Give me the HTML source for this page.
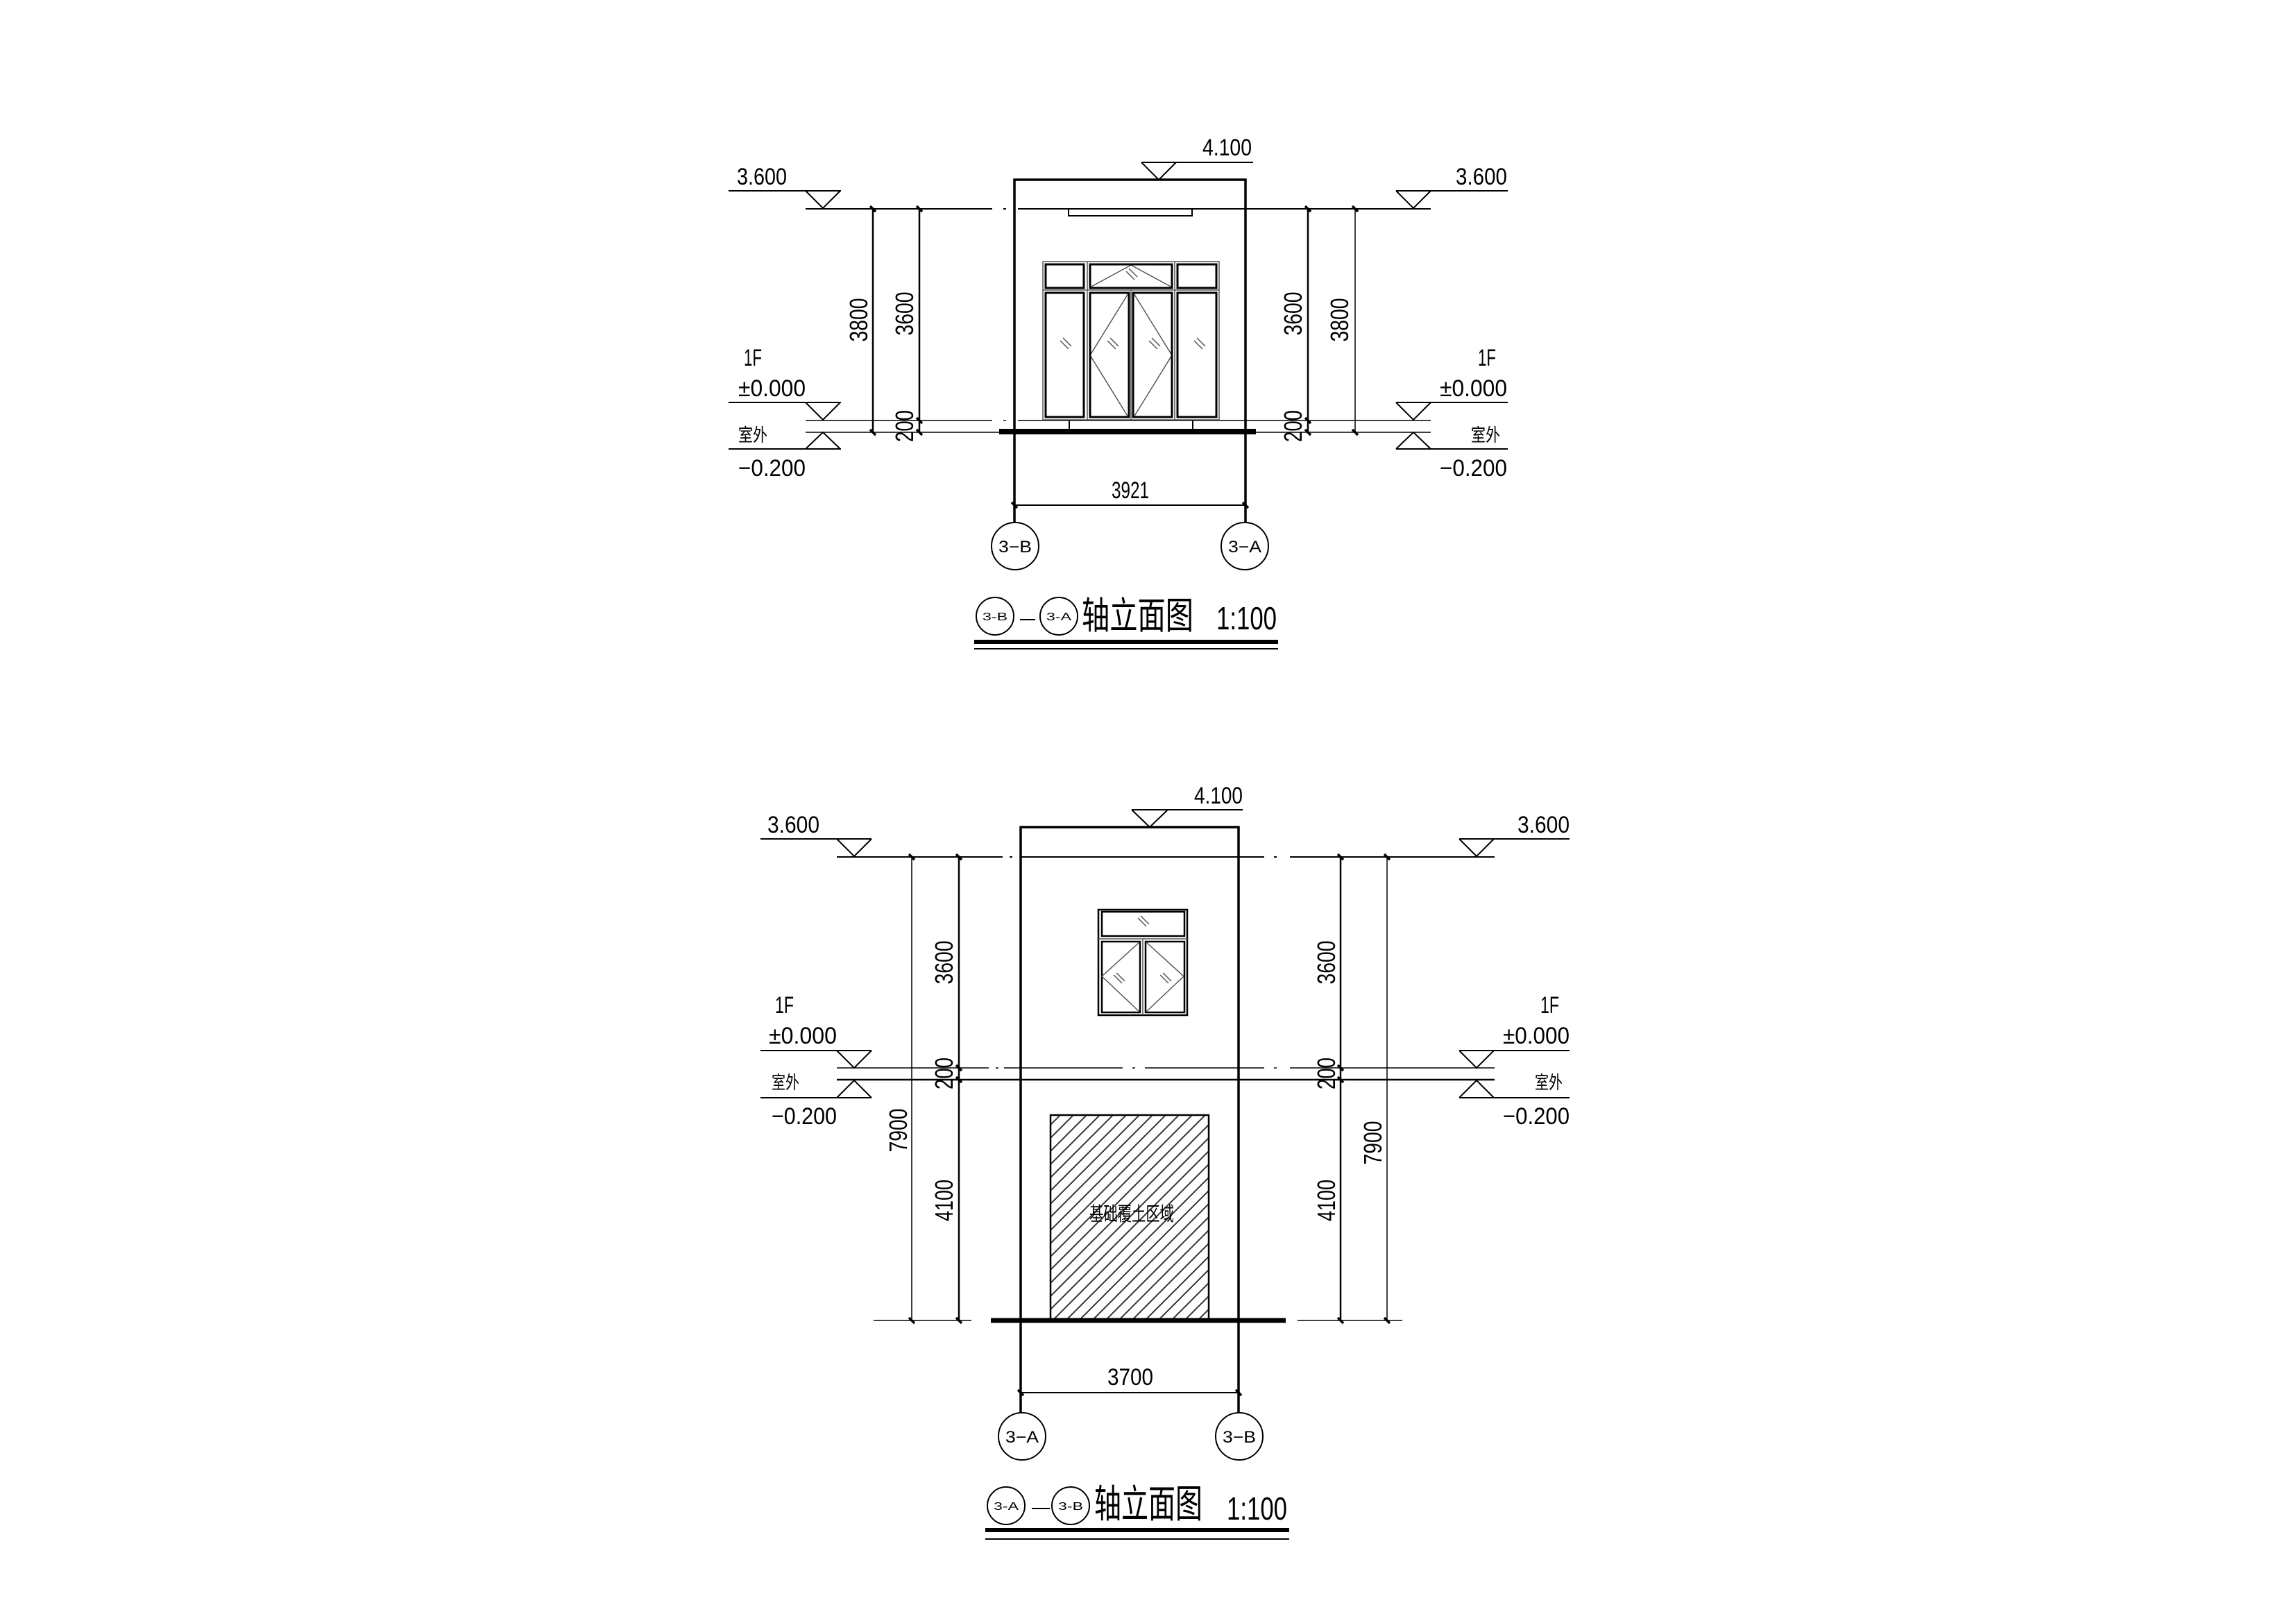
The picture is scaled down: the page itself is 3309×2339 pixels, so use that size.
<!DOCTYPE html>
<html><head><meta charset="utf-8"><style>html,body{margin:0;padding:0;background:#fff}svg{display:block}text{font-family:"Liberation Sans","Noto Sans CJK SC",sans-serif;fill:#000}</style></head><body>
<svg xmlns="http://www.w3.org/2000/svg" width="3309" height="2339" viewBox="0 0 3309 2339">
<defs>
<pattern id="h" width="19" height="19" patternUnits="userSpaceOnUse"><path d="M0,19 L19,0 M-5,5 L5,-5 M14,24 L24,14" stroke="#333" stroke-width="2"/></pattern>
</defs>
<rect width="3309" height="2339" fill="#fff"/>
<g stroke="#000" fill="none" stroke-width="2">
<path d="M1161,301 H1430 M1446,301 H1450 M1467,301 H2062"/>
<path d="M1161,606 H1430 M1446,606 H1450 M1467,606 H2062" stroke-width="1.5"/>
<path d="M1161,623 H2062" stroke-width="1.5"/>
<path d="M1462,753 V259 H1795 V753" stroke-width="3.5"/>
<rect x="1540" y="301" width="178" height="10" stroke-width="2"/>
<g stroke="#555" stroke-width="1.5">
<rect x="1503" y="377" width="254" height="228"/>
<path d="M1503,418 H1757 M1567,377 V605 M1630,418 V605 M1693,377 V605"/>
<path d="M1630,382 L1571,414 M1630,382 L1689,414"/>
<path d="M1626,423 L1571,512 L1626,601 M1634,423 L1689,512 L1634,601"/>
<path d="M1528,491 l12,12 M1532,487 l12,12 M1596,491 l12,12 M1600,487 l12,12 M1656,491 l12,12 M1660,487 l12,12 M1721,491 l12,12 M1725,487 l12,12 M1623,391 l12,12 M1627,387 l12,12"/>
</g>
<g stroke-width="3">
<rect x="1507" y="381" width="55" height="34"/><rect x="1571" y="381" width="118" height="34"/><rect x="1697" y="381" width="56" height="34"/>
<rect x="1507" y="422" width="55" height="179"/><rect x="1571" y="422" width="56" height="179"/><rect x="1633" y="422" width="56" height="179"/><rect x="1697" y="422" width="56" height="179"/>
</g>
<path d="M1541,606 V620 M1719,606 V620" stroke-width="2"/>
<path d="M1440,622 H1810" stroke-width="8"/>
<path d="M1645,234 H1806 M1645,234 L1670,259 L1695,234" />
<path d="M1050,275 H1212 M1161,275 L1186,300 L1211,275"/>
<path d="M1050,580 H1212 M1161,580 L1186,605 L1211,580"/>
<path d="M1050,647 H1212 M1161,647 L1186,623 L1211,647"/>
<path d="M2012,275 H2173 M2012,275 L2037,300 L2062,275"/>
<path d="M2012,580 H2173 M2012,580 L2037,605 L2062,580"/>
<path d="M2012,647 H2173 M2012,647 L2037,623 L2062,647"/>
<path d="M1258,301 V623 M1325,301 V623 M1885,301 V623" stroke-width="2.5"/>
<path d="M1953,301 V623" stroke-width="1.5"/>
<g stroke-width="3.5">
<path d="M1254,297 l8,8 M1254,619 l8,8 M1321,297 l8,8 M1321,602 l8,8 M1321,619 l8,8 M1881,297 l8,8 M1881,602 l8,8 M1881,619 l8,8 M1949,297 l8,8 M1949,619 l8,8"/>
<path d="M1458,724 l8,8 M1791,724 l8,8"/>
</g>
<path d="M1462,728 H1795"/>
<circle cx="1463" cy="787" r="34"/>
<circle cx="1794" cy="787" r="34"/>
<path d="M1404,925 H1842" stroke-width="6"/>
<path d="M1404,935 H1842" stroke-width="2"/>
<circle cx="1434" cy="888" r="27"/><circle cx="1526" cy="888" r="27"/>
<path d="M1470,893 H1492" stroke-width="2"/>

<path d="M1206,1235 H1445 M1455,1235 H1459 M1471,1235 H1822 M1836,1235 H1840 M1859,1235 H2154"/>
<path d="M1206,1539 H1425 M1435,1539 H1439 M1447,1539 H1618 M1632,1539 H1636 M1650,1539 H1822 M1836,1539 H1840 M1859,1539 H2154" stroke-width="1.5"/>
<path d="M1206,1556 H2154" stroke-width="2.5"/>
<path d="M1471,2036 V1192 H1785 V2036" stroke-width="3.5"/>
<rect x="1583" y="1311" width="128" height="152" stroke-width="2.5"/>
<path d="M1583,1353 H1711 M1647,1353 V1463" stroke="#555" stroke-width="1.5"/>
<g stroke-width="2.5">
<rect x="1588" y="1314" width="119" height="35"/>
<rect x="1588" y="1357" width="55" height="102"/>
<rect x="1651" y="1357" width="56" height="102"/>
</g>
<g stroke="#555" stroke-width="1.5">
<path d="M1642,1358 L1588,1407 L1642,1458 M1652,1358 L1706,1407 L1652,1458"/>
<path d="M1640,1323 l12,12 M1644,1320 l12,12 M1605,1405 l12,12 M1609,1402 l12,12 M1672,1405 l12,12 M1676,1402 l12,12"/>
</g>
<rect x="1514" y="1607" width="228" height="296" fill="url(#h)" stroke-width="2.5"/>
<path d="M1428,1903 H1853" stroke-width="7"/>
<path d="M1259,1903 H1400 M1870,1903 H2021" stroke-width="1.5"/>
<path d="M1631,1167 H1791 M1631,1167 L1657,1192 L1683,1167"/>
<path d="M1096,1209 H1256 M1206,1209 L1231,1234 L1256,1209"/>
<path d="M1096,1514 H1256 M1206,1514 L1231,1539 L1256,1514"/>
<path d="M1096,1582 H1256 M1206,1582 L1231,1557 L1256,1582"/>
<path d="M2103,1209 H2262 M2103,1209 L2128,1234 L2153,1209"/>
<path d="M2103,1514 H2262 M2103,1514 L2128,1539 L2153,1514"/>
<path d="M2103,1582 H2262 M2103,1582 L2128,1557 L2153,1582"/>
<path d="M1314,1235 V1903 M1999,1235 V1903" stroke-width="1.5"/>
<path d="M1382,1235 V1903 M1932,1235 V1903" stroke-width="2.5"/>
<g stroke-width="3.5">
<path d="M1310,1231 l8,8 M1310,1899 l8,8 M1378,1231 l8,8 M1378,1535 l8,8 M1378,1552 l8,8 M1378,1899 l8,8 M1928,1231 l8,8 M1928,1535 l8,8 M1928,1552 l8,8 M1928,1899 l8,8 M1995,1231 l8,8 M1995,1899 l8,8"/>
<path d="M1467,2003 l8,8 M1781,2003 l8,8"/>
</g>
<path d="M1471,2007 H1785"/>
<circle cx="1473" cy="2070" r="34"/>
<circle cx="1786" cy="2070" r="34"/>
<path d="M1420,2205 H1858" stroke-width="6"/>
<path d="M1420,2218 H1858" stroke-width="2"/>
<circle cx="1450" cy="2170" r="27"/><circle cx="1543" cy="2170" r="27"/>
<path d="M1487,2174 H1513" stroke-width="2"/>
</g>

<g font-size="34">
<text x="1733" y="224" textLength="71" lengthAdjust="spacingAndGlyphs">4.100</text>
<text x="1062" y="266" textLength="72" lengthAdjust="spacingAndGlyphs">3.600</text>
<text x="2098" y="266" textLength="74" lengthAdjust="spacingAndGlyphs">3.600</text>
<text x="1072" y="527" textLength="26" lengthAdjust="spacingAndGlyphs">1F</text>
<text x="2130" y="527" textLength="26" lengthAdjust="spacingAndGlyphs">1F</text>
<text x="1064" y="571" textLength="97" lengthAdjust="spacingAndGlyphs">±0.000</text>
<text x="2075" y="571" textLength="97" lengthAdjust="spacingAndGlyphs">±0.000</text>
<text x="1064" y="686" textLength="97" lengthAdjust="spacingAndGlyphs">−0.200</text>
<text x="2075" y="686" textLength="97" lengthAdjust="spacingAndGlyphs">−0.200</text>
<text x="1629" y="718" text-anchor="middle" textLength="54" lengthAdjust="spacingAndGlyphs">3921</text>
</g>
<text x="1064" y="636" font-size="26" textLength="42" lengthAdjust="spacingAndGlyphs">室外</text>
<text x="2120" y="636" font-size="26" textLength="42" lengthAdjust="spacingAndGlyphs">室外</text>
<g font-size="36">
<text transform="translate(1250,461) rotate(-90)" text-anchor="middle" textLength="63" lengthAdjust="spacingAndGlyphs">3800</text>
<text transform="translate(1316,452) rotate(-90)" text-anchor="middle" textLength="63" lengthAdjust="spacingAndGlyphs">3600</text>
<text transform="translate(1316,614) rotate(-90)" text-anchor="middle" textLength="46" lengthAdjust="spacingAndGlyphs">200</text>
<text transform="translate(1876,452) rotate(-90)" text-anchor="middle" textLength="63" lengthAdjust="spacingAndGlyphs">3600</text>
<text transform="translate(1943,461) rotate(-90)" text-anchor="middle" textLength="63" lengthAdjust="spacingAndGlyphs">3800</text>
<text transform="translate(1876,614) rotate(-90)" text-anchor="middle" textLength="46" lengthAdjust="spacingAndGlyphs">200</text>
</g>
<g font-size="24">
<text x="1463" y="796" text-anchor="middle" textLength="48" lengthAdjust="spacingAndGlyphs">3−B</text>
<text x="1794" y="796" text-anchor="middle" textLength="48" lengthAdjust="spacingAndGlyphs">3−A</text>
</g>
<g font-size="16">
<text x="1434" y="894" text-anchor="middle" textLength="36" lengthAdjust="spacingAndGlyphs">3-B</text>
<text x="1526" y="894" text-anchor="middle" textLength="36" lengthAdjust="spacingAndGlyphs">3-A</text>
</g>
<text x="1559" y="906" font-size="54" textLength="161" lengthAdjust="spacingAndGlyphs">轴立面图</text>
<text x="1753" y="907" font-size="46" textLength="87" lengthAdjust="spacingAndGlyphs">1:100</text>

<g font-size="34">
<text x="1721" y="1158" textLength="70" lengthAdjust="spacingAndGlyphs">4.100</text>
<text x="1106" y="1200" textLength="75" lengthAdjust="spacingAndGlyphs">3.600</text>
<text x="2187" y="1200" textLength="75" lengthAdjust="spacingAndGlyphs">3.600</text>
<text x="1117" y="1460" textLength="27" lengthAdjust="spacingAndGlyphs">1F</text>
<text x="2220" y="1460" textLength="27" lengthAdjust="spacingAndGlyphs">1F</text>
<text x="1108" y="1504" textLength="98" lengthAdjust="spacingAndGlyphs">±0.000</text>
<text x="2166" y="1504" textLength="96" lengthAdjust="spacingAndGlyphs">±0.000</text>
<text x="1112" y="1620" textLength="94" lengthAdjust="spacingAndGlyphs">−0.200</text>
<text x="2166" y="1620" textLength="96" lengthAdjust="spacingAndGlyphs">−0.200</text>
<text x="1629" y="1996" text-anchor="middle" textLength="66" lengthAdjust="spacingAndGlyphs">3700</text>
</g>
<text x="1112" y="1569" font-size="26" textLength="40" lengthAdjust="spacingAndGlyphs">室外</text>
<text x="2212" y="1569" font-size="26" textLength="40" lengthAdjust="spacingAndGlyphs">室外</text>
<g font-size="36">
<text transform="translate(1307,1629) rotate(-90)" text-anchor="middle" textLength="63" lengthAdjust="spacingAndGlyphs">7900</text>
<text transform="translate(1373,1387) rotate(-90)" text-anchor="middle" textLength="63" lengthAdjust="spacingAndGlyphs">3600</text>
<text transform="translate(1373,1547) rotate(-90)" text-anchor="middle" textLength="46" lengthAdjust="spacingAndGlyphs">200</text>
<text transform="translate(1373,1730) rotate(-90)" text-anchor="middle" textLength="60" lengthAdjust="spacingAndGlyphs">4100</text>
<text transform="translate(1924,1387) rotate(-90)" text-anchor="middle" textLength="63" lengthAdjust="spacingAndGlyphs">3600</text>
<text transform="translate(1924,1547) rotate(-90)" text-anchor="middle" textLength="46" lengthAdjust="spacingAndGlyphs">200</text>
<text transform="translate(1924,1730) rotate(-90)" text-anchor="middle" textLength="60" lengthAdjust="spacingAndGlyphs">4100</text>
<text transform="translate(1991,1647) rotate(-90)" text-anchor="middle" textLength="63" lengthAdjust="spacingAndGlyphs">7900</text>
</g>
<text x="1570" y="1759" font-size="28" textLength="122" lengthAdjust="spacingAndGlyphs">基础覆土区域</text>
<g font-size="24">
<text x="1473" y="2079" text-anchor="middle" textLength="48" lengthAdjust="spacingAndGlyphs">3−A</text>
<text x="1786" y="2079" text-anchor="middle" textLength="48" lengthAdjust="spacingAndGlyphs">3−B</text>
</g>
<g font-size="16">
<text x="1450" y="2176" text-anchor="middle" textLength="36" lengthAdjust="spacingAndGlyphs">3-A</text>
<text x="1543" y="2176" text-anchor="middle" textLength="36" lengthAdjust="spacingAndGlyphs">3-B</text>
</g>
<text x="1577" y="2187" font-size="56" textLength="156" lengthAdjust="spacingAndGlyphs">轴立面图</text>
<text x="1768" y="2190" font-size="46" textLength="87" lengthAdjust="spacingAndGlyphs">1:100</text>
</svg>
</body></html>
